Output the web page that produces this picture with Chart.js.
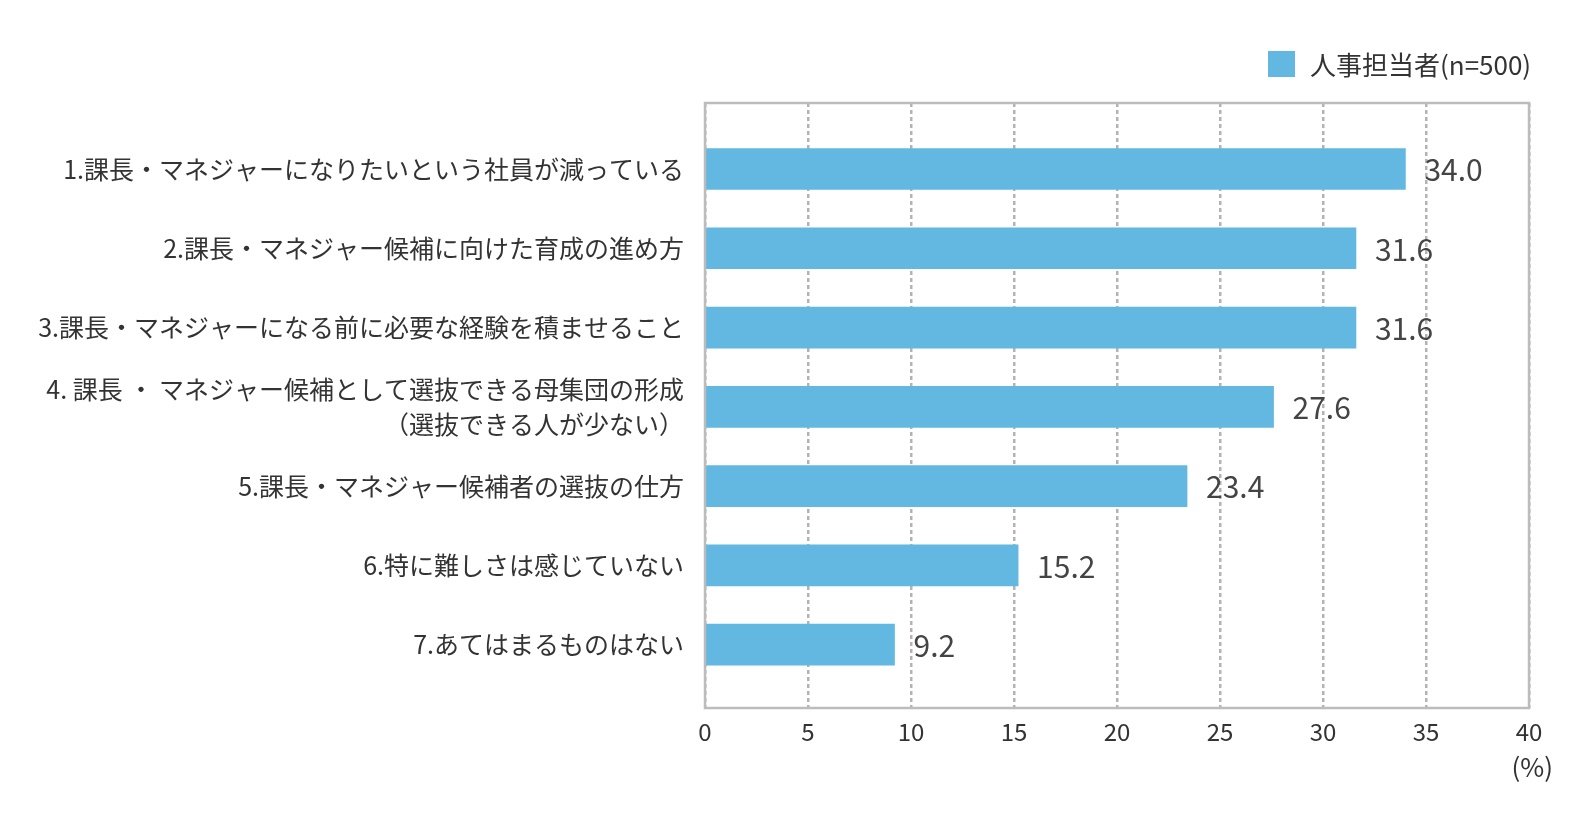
<!DOCTYPE html>
<html>
<head>
<meta charset="utf-8">
<script src="https://cdn.jsdelivr.net/npm/chart.js@4.4.1/dist/chart.umd.min.js"></script>
<style>
  html, body { margin: 0; padding: 0; background: #fff; }
  #wrap { width: 1580px; height: 817px; }
</style>
</head>
<body>
<div id="wrap"><canvas id="chart"></canvas></div>
<script>
const categories = [
  '1.課長・マネジャーになりたいという社員が減っている',
  '2.課長・マネジャー候補に向けた育成の進め方',
  '3.課長・マネジャーになる前に必要な経験を積ませること',
  ['4. 課長 ・ マネジャー候補として選抜できる母集団の形成', '（選抜できる人が少ない）'],
  '5.課長・マネジャー候補者の選抜の仕方',
  '6.特に難しさは感じていない',
  '7.あてはまるものはない'
];
const values = [34.0, 31.6, 31.6, 27.6, 23.4, 15.2, 9.2];
const seriesName = '人事担当者(n=500)';
const xTicks = [0, 5, 10, 15, 20, 25, 30, 35, 40];
const unitLabel = '(%)';

const font = '"Noto Sans CJK JP", "Noto Sans", sans-serif';
const barColor = '#62b8e0';
const textColor = '#333333';
const frameColor = '#bcbcbc';

// outer frame of the plot area
const framePlugin = {
  id: 'frame',
  afterDatasetsDraw(chart) {
    const { ctx, chartArea: a } = chart;
    ctx.save();
    ctx.strokeStyle = frameColor;
    ctx.lineWidth = 2.5;
    ctx.strokeRect(a.left, a.top, a.right - a.left, a.bottom - a.top);
    ctx.restore();
  }
};

// value labels at bar ends, legend and unit
const labelsPlugin = {
  id: 'labels',
  afterDraw(chart) {
    const { ctx } = chart;
    const meta = chart.getDatasetMeta(0);
    ctx.save();
    ctx.fillStyle = '#444444';
    ctx.font = '30px ' + font;
    ctx.textAlign = 'left';
    ctx.textBaseline = 'middle';
    meta.data.forEach((bar, i) => {
      ctx.fillText(values[i].toFixed(1), bar.x + 19, bar.y + 1);
    });

    // legend
    ctx.fillStyle = barColor;
    ctx.fillRect(1268, 51, 27, 26);
    ctx.fillStyle = textColor;
    ctx.font = '26px ' + font;
    ctx.fillText(chart.data.datasets[0].label, 1310, 65);

    // unit
    ctx.textAlign = 'right';
    ctx.fillText(unitLabel, 1553, 767);
    ctx.restore();
  }
};

new Chart(document.getElementById('chart'), {
  type: 'bar',
  data: {
    datasets: [{
      label: seriesName,
      data: values.map((v, i) => ({ x: v, y: i })),
      backgroundColor: barColor,
      barThickness: 41
    }]
  },
  options: {
    indexAxis: 'y',
    responsive: true,
    maintainAspectRatio: false,
    animation: false,
    layout: { padding: { top: 103, right: 51, left: 0, bottom: 0 } },
    plugins: {
      legend: { display: false },
      tooltip: { enabled: false }
    },
    scales: {
      x: {
        type: 'linear',
        min: 0,
        max: 40,
        afterBuildTicks: s => { s.ticks = xTicks.map(v => ({ value: v })); },
        afterFit: s => { s.height = 109; },
        border: { display: false, dash: [4, 3] },
        grid: {
          color: '#b3b3b3',
          lineWidth: 2.5,
          drawTicks: false
        },
        ticks: {
          color: textColor,
          padding: 9,
          maxRotation: 0,
          font: { family: font, size: 24 }
        }
      },
      y: {
        type: 'linear',
        reverse: true,
        offset: false,
        min: -0.833,
        max: 6.8,
        afterBuildTicks: s => { s.ticks = categories.map((c, i) => ({ value: i })); },
        afterFit: s => { s.width = 705; },
        border: { display: false },
        grid: { display: false, drawTicks: false, offset: false },
        ticks: {
          color: textColor,
          padding: 21,
          autoSkip: false,
          font: { family: font, size: 25, lineHeight: 1.4 },
          callback: v => categories[v]
        }
      }
    }
  },
  plugins: [framePlugin, labelsPlugin]
});
</script>
</body>
</html>
